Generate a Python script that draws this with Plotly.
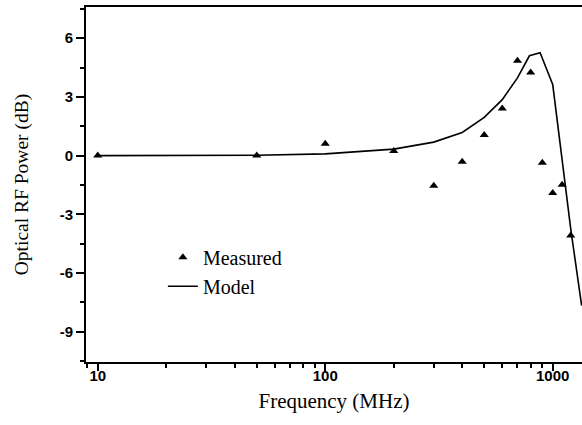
import plotly.graph_objects as go
import math

# Measured data
meas_freq = [10, 50, 100, 200, 300, 400, 500, 600, 700, 800, 900, 1000, 1100, 1200]
meas_db = [0.0, 0.0, 0.6, 0.24, -1.54, -0.31, 1.05, 2.41, 4.84, 4.24, -0.37, -1.91, -1.49, -4.08]

# Model curve
model_freq = [10, 50, 100, 200, 300, 400, 500, 600, 700, 790, 880, 1000, 1100, 1200, 1340]
model_db = [0.0, 0.02, 0.09, 0.33, 0.69, 1.18, 1.95, 2.86, 3.97, 5.1, 5.25, 3.63, -0.22, -3.74, -7.66]

y_ticks = [-9, -6, -3, 0, 3, 6]
x_ticks = [10, 100, 1000]

serif = "Liberation Serif, Times New Roman, serif"
sans = "Liberation Sans, Arial, sans-serif"

fig = go.Figure()
fig.add_trace(go.Scatter(
    x=meas_freq, y=meas_db, mode="markers", name="Measured",
    marker=dict(symbol="triangle-up", size=8, color="black"),
))
fig.add_trace(go.Scatter(
    x=model_freq, y=model_db, mode="lines", name="Model",
    line=dict(color="black", width=1.6),
))

fig.update_layout(
    width=582, height=425,
    margin=dict(l=86, r=0, t=7, b=63),
    plot_bgcolor="white", paper_bgcolor="white",
    showlegend=True,
    legend=dict(
        x=0.155, y=0.35, xanchor="left", yanchor="top",
        font=dict(family=serif, size=20, color="black"),
        bgcolor="rgba(0,0,0,0)", tracegroupgap=0, itemwidth=30,
    ),
    xaxis=dict(
        type="log", range=[math.log10(8.88), math.log10(1345)],
        tickvals=x_ticks, ticktext=[str(v) for v in x_ticks],
        ticks="outside", ticklen=7, tickwidth=2, tickcolor="black",
        ticklabelstandoff=-8,
        showline=True, linewidth=2, linecolor="black", mirror=True,
        showgrid=False, zeroline=False,
        tickfont=dict(family=sans, size=15, color="black", weight="bold"),
        minor=dict(ticks="outside", ticklen=4, tickwidth=1.5, tickcolor="black",
                   dtick="D1", showgrid=False),
        title=dict(text="Frequency (MHz)", font=dict(family=serif, size=21, color="black"),
                   standoff=10),
    ),
    yaxis=dict(
        range=[-10.54, 7.59],
        tickvals=y_ticks, ticktext=[str(v) for v in y_ticks],
        ticks="outside", ticklen=8, tickwidth=2, tickcolor="black",
        showline=True, linewidth=2, linecolor="black", mirror=False,
        showgrid=False, zeroline=False,
        tickfont=dict(family=sans, size=15, color="black", weight="bold"),
        minor=dict(ticks="outside", ticklen=4, tickwidth=1.5, tickcolor="black",
                   dtick=1.5, tick0=0, showgrid=False),
        title=dict(text="Optical RF Power (dB)", font=dict(family=serif, size=19.5, color="black"),
                   standoff=26),
    ),
)

fig.write_html("out.html", config={"displayModeBar": False},
               post_script="document.body.style.margin='0px';")
